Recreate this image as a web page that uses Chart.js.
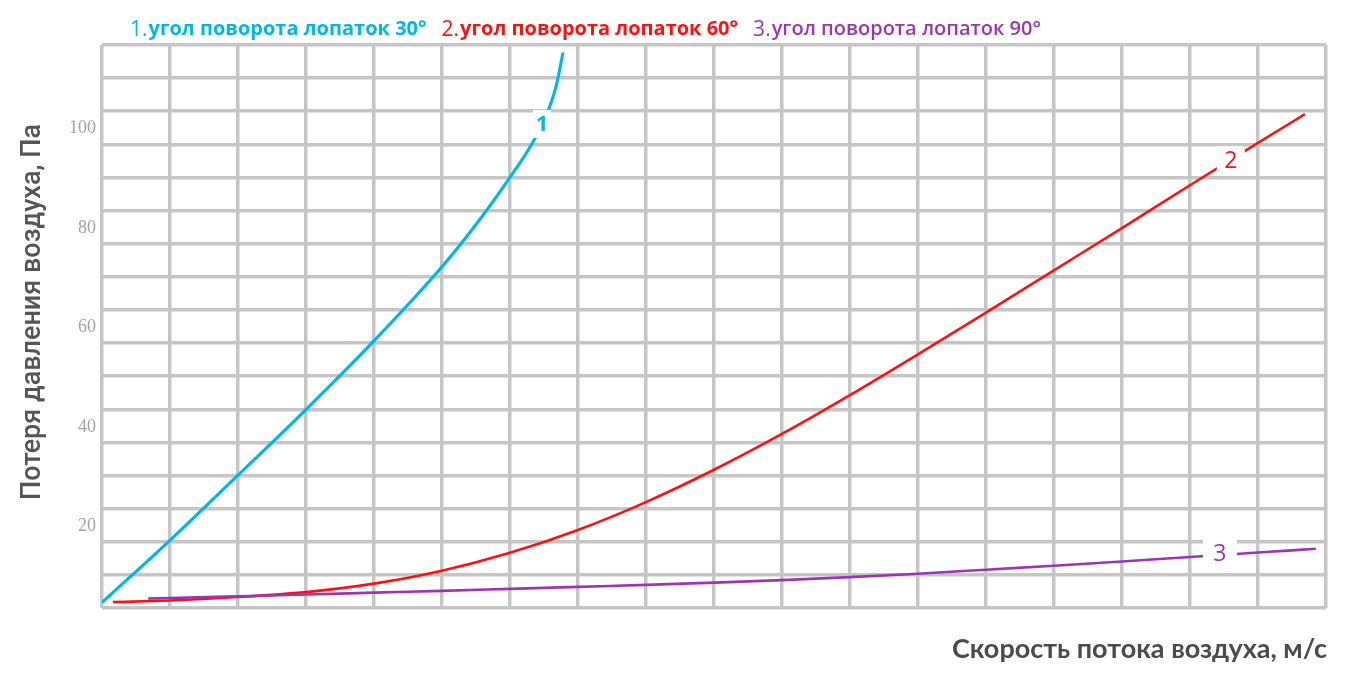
<!DOCTYPE html>
<html>
<head>
<meta charset="utf-8">
<script src="https://cdn.jsdelivr.net/npm/chart.js@4.4.1/dist/chart.umd.min.js"></script>
<style>
  html, body { margin: 0; padding: 0; background: #fff; }
  canvas { display: block; }
</style>
</head>
<body>
<canvas id="chart" width="1354" height="681"></canvas>
<script>
// values (x in grid cells, y in Pa)
const line1X = [0, 1, 2, 3, 4, 5, 5.5, 6, 6.29, 6.52, 6.68, 6.78];
const line1Y = [4.7, 17.2, 30.3, 43.5, 57.3, 72.2, 80.7, 90.2, 96.2, 102.2, 108.6, 115.3];

const line2X = [0.16, 1, 2, 3, 4, 5, 6, 7, 8, 9, 10, 11, 12, 13, 14, 15, 16, 17, 17.69];
const line2Y = [4.8, 5.1, 5.8, 6.8, 8.5, 11.1, 14.7, 19.3, 24.9, 31.4, 38.6, 46.4, 54.6, 63.0, 71.5, 80.0, 88.6, 97.1, 102.9];

const line3X = [0.68, 1, 2, 3, 4, 5, 6, 7, 8, 9, 10, 11, 12, 13, 14, 15, 16, 17, 17.85];
const line3Y = [5.5, 5.6, 5.95, 6.3, 6.7, 7.05, 7.45, 7.85, 8.25, 8.7, 9.2, 9.8, 10.5, 11.3, 12.1, 12.95, 13.85, 14.75, 15.5];

const yTicks = [20, 40, 60, 80, 100];

const legendNums = ['1.', '2.', '3.'];
const legendTexts = ['угол поворота лопаток 30°', 'угол поворота лопаток 60°', 'угол поворота лопаток 90°'];
const curveTags = ['1', '2', '3'];
const tagX = [6.47, 16.6, 16.44];
const tagY = [100.9, 93.6, 14.6];

const colors = ['#00b8e4', '#ff1010', '#9c35b5'];

const toPoints = (xs, ys) => xs.map((x, i) => ({ x: x, y: ys[i] }));

// legend, axis titles and curve numbers
const textPlugin = {
  id: 'texts',
  afterDatasetsDraw(chart) {
    const ctx = chart.ctx;
    const sx = chart.scales.x, sy = chart.scales.y;
    ctx.save();

    // numbers sitting on the curves, with a white patch under them
    const tagFonts = ['bold 22px "Open Sans"', '23px "Open Sans"', '23px "Open Sans"'];
    const boxW = [18, 28, 34];
    curveTags.forEach((t, i) => {
      const px = sx.getPixelForValue(tagX[i]);
      const py = sy.getPixelForValue(tagY[i]);
      ctx.fillStyle = '#fff';
      ctx.fillRect(px - boxW[i] / 2, py - 14, boxW[i], 28);
      ctx.font = tagFonts[i];
      ctx.fillStyle = colors[i];
      ctx.textAlign = 'center';
      ctx.textBaseline = 'middle';
      ctx.fillText(t, px, py + 1);
    });

    // legend line at the top
    ctx.textAlign = 'left';
    ctx.textBaseline = 'alphabetic';
    let x = 130;
    legendTexts.forEach((t, i) => {
      ctx.fillStyle = colors[i];
      ctx.font = '21px "Open Sans"';
      ctx.fillText(legendNums[i], x, 36);
      x += ctx.measureText(legendNums[i]).width + 1;
      ctx.font = (i === 2 ? '600' : 'bold') + ' 20px "Open Sans"';
      ctx.fillText(t, x, 35);
      x += ctx.measureText(t).width + 15;
    });

    // axis titles
    ctx.fillStyle = '#4b4b4b';
    ctx.font = 'bold 27px Lato';
    ctx.textAlign = 'right';
    ctx.fillText('Скорость потока воздуха, м/с', 1327, 658);

    ctx.translate(33, 312);
    ctx.rotate(-Math.PI / 2);
    ctx.textAlign = 'center';
    ctx.textBaseline = 'middle';
    ctx.fillStyle = '#555';
    ctx.font = '500 27px Roboto';
    ctx.fillText('Потеря давления воздуха, Па', 0, 0);
    ctx.restore();
  }
};

new Chart(document.getElementById('chart'), {
  type: 'line',
  data: {
    datasets: [
      { data: toPoints(line1X, line1Y), borderColor: colors[0], borderWidth: 3.2 },
      { data: toPoints(line3X, line3Y), borderColor: colors[2], borderWidth: 2.6 },
      { data: toPoints(line2X, line2Y), borderColor: colors[1], borderWidth: 2.6 }
    ].map(d => Object.assign(d, {
      pointRadius: 0,
      fill: false,
      cubicInterpolationMode: 'monotone',
      xAxisID: 'x',
      yAxisID: 'y'
    }))
  },
  options: {
    responsive: false,
    animation: false,
    devicePixelRatio: 1,
    layout: { padding: { left: 0, top: 45, right: 28, bottom: 73 } },
    plugins: { legend: { display: false }, tooltip: { enabled: false } },
    scales: {
      x: {
        type: 'linear',
        min: 0,
        max: 18,
        ticks: { display: false, stepSize: 1 },
        grid: { color: '#c6c6c6', lineWidth: 3.5, drawTicks: false },
        border: { display: false },
        afterFit: (axis) => { axis.height = 0; }
      },
      y: {
        type: 'linear',
        min: 3.6,
        max: 116.8,
        afterBuildTicks: (axis) => { axis.ticks = yTicks.map(v => ({ value: v })); },
        ticks: {
          color: '#a3a3a3',
          font: { family: '"Liberation Serif"', size: 18 },
          padding: 6
        },
        grid: { display: false, drawTicks: false },
        border: { display: false },
        afterFit: (axis) => { axis.width = 102; }
      },
      grid: {
        type: 'linear',
        position: 'right',
        min: 0,
        max: 17,
        ticks: { display: false, stepSize: 1 },
        grid: { color: '#c6c6c6', lineWidth: 3.5, drawTicks: false },
        border: { display: false },
        afterFit: (axis) => { axis.width = 0; }
      }
    }
  },
  plugins: [textPlugin]
});
</script>
</body>
</html>
